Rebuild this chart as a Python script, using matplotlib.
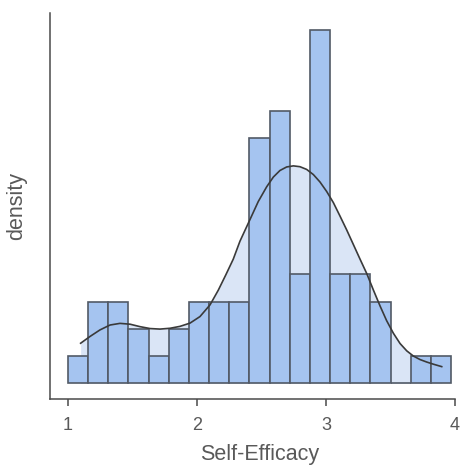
import numpy as np
import matplotlib
matplotlib.use("Agg")
import matplotlib.pyplot as plt

plt.rcParams['font.family'] = ['Liberation Sans', 'DejaVu Sans']

# histogram of Self-Efficacy (counts per bin)
bin_lo = 1.0
bin_hi = 3.97
counts = [1, 3, 3, 2, 1, 2, 3, 3, 3, 9, 10, 4, 13, 4, 4, 3, 0, 1, 1]

# density curve (same units as counts)
kde_x = [1.098, 1.171, 1.248, 1.326, 1.403, 1.481, 1.558, 1.636, 1.713, 1.791,
         1.868, 1.946, 2.023, 2.101, 2.165, 2.223, 2.281, 2.333, 2.411, 2.475,
         2.540, 2.592, 2.643, 2.695, 2.747, 2.798, 2.850, 2.902, 2.953, 3.005,
         3.057, 3.109, 3.160, 3.212, 3.264, 3.316, 3.367, 3.419, 3.470, 3.522,
         3.574, 3.626, 3.677, 3.729, 3.780, 3.832, 3.897]
kde_y = [1.47, 1.72, 1.96, 2.14, 2.20, 2.17, 2.08, 2.01, 1.99, 2.02,
         2.09, 2.21, 2.45, 2.88, 3.42, 3.98, 4.56, 5.22, 6.02, 6.68,
         7.22, 7.58, 7.82, 7.95, 7.99, 7.96, 7.86, 7.67, 7.40, 7.05,
         6.64, 6.14, 5.64, 5.10, 4.56, 4.03, 3.43, 2.84, 2.30, 1.84,
         1.46, 1.19, 1.00, 0.87, 0.78, 0.70, 0.61]

xticks = [1, 2, 3, 4]

fig = plt.figure(figsize=(4.65, 4.68), dpi=100)
ax = fig.add_axes([50 / 465, 69 / 468, 405 / 465, 386 / 468])

edges = np.linspace(bin_lo, bin_hi, len(counts) + 1)
ax.fill_between(kde_x, 0, kde_y, color='#dae5f6', lw=0, zorder=1)
ax.bar(edges[:-1], counts, width=np.diff(edges), align='edge',
       color='#a5c4f0', edgecolor='#525a66', linewidth=1.2, zorder=2)
ax.plot(kde_x, kde_y, color='#3a3a3a', lw=1.2, zorder=3)

ax.set_xlim(0.8605, 4.0)
ax.set_ylim(-0.58, 13.61)

for s in ['top', 'right']:
    ax.spines[s].set_visible(False)
for s in ['left', 'bottom']:
    ax.spines[s].set_color('#4a4a4a')
    ax.spines[s].set_linewidth(1.1)

ax.set_xticks(xticks)
ax.set_xticklabels([str(t) for t in xticks])
ax.set_yticks([])
ax.tick_params(axis='x', colors='#4a4a4a', labelcolor='#595959',
               labelsize=13, length=5, width=1.1, pad=8)

ax.set_xlabel('Self-Efficacy', fontsize=15.5, color='#595959')
ax.xaxis.set_label_coords(0.518, -0.117)
ax.set_ylabel('density', fontsize=15.5, color='#595959')
ax.yaxis.set_label_coords(-0.057, 0.5)

plt.savefig('out.png', dpi=100)
